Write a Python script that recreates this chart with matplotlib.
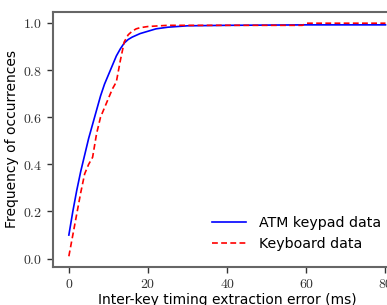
import matplotlib
matplotlib.use("Agg")
import matplotlib.pyplot as plt

# --- data ---
atm_x = [0, 1, 2, 3, 4, 5, 6, 7, 8, 9, 10, 11, 12, 13, 14, 15, 16, 18, 20, 22, 25, 30, 40, 60, 80]
atm_y = [0.10, 0.20, 0.29, 0.37, 0.44, 0.51, 0.57, 0.63, 0.69, 0.74, 0.78, 0.82, 0.86, 0.89,
         0.915, 0.93, 0.94, 0.955, 0.965, 0.975, 0.982, 0.988, 0.99, 0.992, 0.992]

kb_x = [0, 1, 2, 3, 4, 5, 6, 7, 8, 9, 10, 11, 12, 13, 14, 15, 16, 17, 18, 20, 25, 30, 59, 60, 80]
kb_y = [0.01, 0.10, 0.19, 0.28, 0.36, 0.40, 0.43, 0.53, 0.60, 0.64, 0.68, 0.72, 0.75, 0.84,
        0.92, 0.95, 0.965, 0.975, 0.98, 0.985, 0.99, 0.99, 0.99, 0.999, 0.999]

x_ticks = [0, 20, 40, 60, 80]
y_ticks = [0.0, 0.2, 0.4, 0.6, 0.8, 1.0]

plt.rcParams['mathtext.fontset'] = 'cm'

fig = plt.figure(figsize=(3.87, 3.05), dpi=100)
# axes runs off the right edge of the figure, like the cropped original
ax = fig.add_axes([0.137, 0.125, 0.90, 0.836])

ax.plot(atm_x, atm_y, color='blue', lw=1.2, label='ATM keypad data')
ax.plot(kb_x, kb_y, color='red', lw=1.2, ls=(0, (3.5, 2)), label='Keyboard data')

ax.set_xlim(-4, 84)
ax.set_ylim(-0.035, 1.047)
ax.set_xticks(x_ticks)
ax.set_yticks(y_ticks)
ax.set_xticklabels([r'$%d$' % v for v in x_ticks])
ax.set_yticklabels([r'$%.1f$' % v for v in y_ticks])
ax.tick_params(labelsize=10, length=4, width=1, colors='#333333', labelcolor='#333333')

for s in ['left', 'bottom', 'top', 'right']:
    ax.spines[s].set_color('#666666')
    ax.spines[s].set_linewidth(1.5)

ax.set_xlabel('Inter-key timing extraction error (ms)', fontsize=10, family='DejaVu Sans', labelpad=1)
ax.set_ylabel('Frequency of occurrences', fontsize=10, family='DejaVu Sans', labelpad=3)

leg = ax.legend(loc='lower right', bbox_to_anchor=(0.965, 0.03), frameon=False,
                prop={'family': 'DejaVu Sans', 'size': 10.2}, handlelength=2.4,
                handletextpad=0.9, labelspacing=0.45, borderaxespad=0.2)

fig.savefig('out.png', dpi=100)
